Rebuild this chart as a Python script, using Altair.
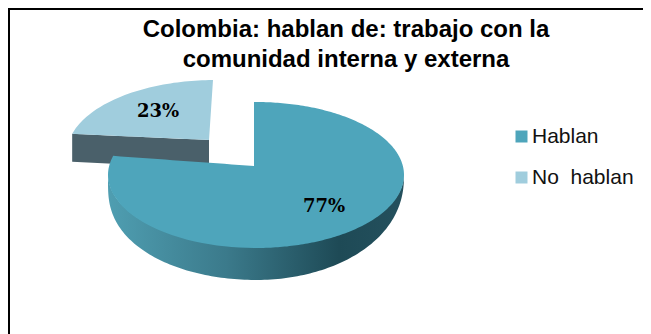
import numpy as np
import pandas as pd
import altair as alt

categories = ["Hablan", "No\u00a0\u00a0hablan"]
shares = [77, 23]
title_lines = ["Colombia: hablan de: trabajo con la", "comunidad interna y externa"]

FACE_MAIN, FACE_SMALL = "#4ea5bb", "#a0cddd"
WALL_SMALL = "#4a606a"
W, H = 635, 326
X0, Y0 = 8, 8
CX, CY, RX, RY = 256, 175, 148, 73
VERTEX = (254, 166)
TURN = 8
SHIFT = (-41, -22)
VERTEX2 = (209, 140)

xs_scale = alt.Scale(domain=[X0, X0 + W], range=[0, W], nice=False, zero=False)
ys_scale = alt.Scale(domain=[Y0 + H, Y0], range=[H, 0], nice=False, zero=False)
X = lambda: alt.X("x:Q", scale=xs_scale, axis=None)
Y = lambda: alt.Y("y:Q", scale=ys_scale, axis=None)


def half(x):
    return RY * np.sqrt(np.clip(1 - ((x - CX) / RX) ** 2, 0, 1))


end_deg = np.deg2rad(shares[0] / 100 * 360 + TURN)
tip = (CX + RX * np.sin(end_deg), CY - RY * np.cos(end_deg))
start_x = VERTEX[0]

# main slice face
left = np.concatenate([CX + RX * np.sin(np.linspace(-np.pi / 2, end_deg - 2 * np.pi, 10)),
                       np.linspace(tip[0] + 0.01, start_x, 20)])
right = start_x + 0.01 + (CX + RX - start_x - 0.01) * np.sin(np.linspace(0, np.pi / 2, 100))
mx = np.concatenate([left, right])
low = CY + half(mx)
up = np.where(mx <= start_x, np.interp(mx, [tip[0], VERTEX[0]], [tip[1], VERTEX[1]]), CY - half(mx))
up = np.where(mx < tip[0], CY - half(mx), up)
main_df = pd.DataFrame({"x": mx, "y": up, "yb": low, "cat": categories[0]})

# main slice wall
wx = CX + RX * np.sin(np.linspace(-np.pi / 2, np.pi / 2, 140))
s = np.sqrt(np.clip(1 - ((wx - CX) / RX) ** 2, 0, 1))
depth = np.where(wx < CX, 32 * s ** 0.3, 32 * s ** 0.7)
wall_df = pd.DataFrame({"x": wx, "y": CY + half(wx) - 1, "yb": CY + half(wx) + depth})

# small slice
tip2 = (tip[0] + SHIFT[0], tip[1] + SHIFT[1])
top2 = (start_x + SHIFT[0], CY - half(np.array(start_x)) + SHIFT[1])
sx = np.concatenate([np.linspace(tip2[0], VERTEX2[0], 40), np.linspace(VERTEX2[0], top2[0], 5)[1:]])
s_up = CY - half(sx - SHIFT[0]) + SHIFT[1]
s_low = np.interp(sx, [tip2[0], VERTEX2[0], top2[0]], [tip2[1], VERTEX2[1], top2[1]])
small_df = pd.DataFrame({"x": sx, "y": s_up, "yb": s_low, "cat": categories[1]})
wall2_x = np.linspace(tip2[0], VERTEX2[0], 10)
wall2_y = np.interp(wall2_x, [tip2[0], VERTEX2[0]], [tip2[1], VERTEX2[1]])
wall2_df = pd.DataFrame({"x": wall2_x, "y": wall2_y, "yb": wall2_y + 28})

color = alt.Color(
    "cat:N",
    scale=alt.Scale(domain=categories, range=[FACE_MAIN, FACE_SMALL]),
    legend=alt.Legend(
        title=None, orient="none", legendX=503, legendY=118,
        symbolType="square", symbolSize=144, symbolStrokeWidth=0,
        labelFont="Liberation Sans", labelFontSize=21, labelColor="#111111",
        rowPadding=19, labelOffset=0, labelLimit=200,
    ),
)


def area(df, **kw):
    return alt.Chart(df).mark_area(interpolate="linear", **kw).encode(
        x=X(), y=Y(), y2=alt.Y2("yb")
    )


wall_fill = alt.Gradient(
    gradient="linear", x1=0, x2=1, y1=0, y2=0,
    stops=[
        alt.GradientStop(offset=0, color="#4f9eb1"),
        alt.GradientStop(offset=0.4, color="#3b7a8b"),
        alt.GradientStop(offset=0.78, color="#1e4a56"),
        alt.GradientStop(offset=1, color="#24505d"),
    ],
)

layers = [
    area(wall2_df, color=WALL_SMALL),
    area(small_df).encode(color=color),
    area(wall_df, color=wall_fill),
    area(main_df).encode(color=color),
]

labels_df = pd.DataFrame({"x": [324, 158], "y": [207, 112], "t": [f"{v}%" for v in shares]})
layers.append(
    alt.Chart(labels_df).mark_text(font="DejaVu Serif", fontWeight="bold", fontSize=18, color="#000000")
    .encode(x=X(), y=Y(), text="t:N")
)
title_df = pd.DataFrame({"x": [346, 346], "y": [30, 60], "t": title_lines})
layers.append(
    alt.Chart(title_df).mark_text(font="Liberation Sans", fontWeight="bold", fontSize=24, color="#000000")
    .encode(x=X(), y=Y(), text="t:N")
)
layers.append(
    alt.Chart(pd.DataFrame({"k": [0]})).mark_rule(color="#000000", strokeWidth=2)
    .encode(x=alt.value(1), y=alt.value(0), y2=alt.value(H))
)
layers.append(
    alt.Chart(pd.DataFrame({"k": [0]})).mark_rule(color="#000000", strokeWidth=2)
    .encode(y=alt.value(1), x=alt.value(0), x2=alt.value(W))
)

chart = alt.layer(*layers).properties(
    width=W, height=H, padding=0, background="#ffffff",
    autosize=alt.AutoSizeParams(type="none"),
).configure_view(stroke=None)

chart.save("out.html", embed_options={"renderer": "svg", "actions": False})
